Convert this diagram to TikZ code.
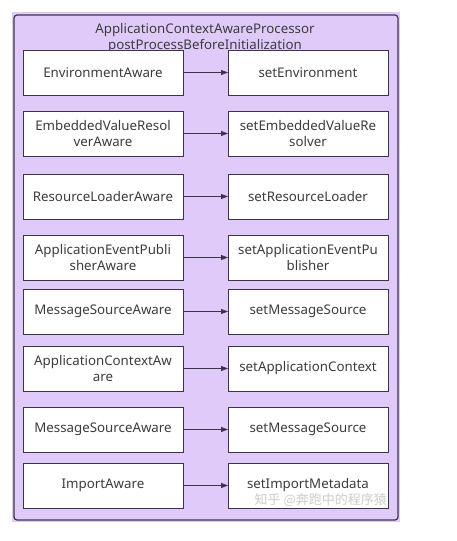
\documentclass[tikz,border=0pt]{standalone}
\usepackage{fontspec}
\setmainfont{Noto Sans}
\newfontfamily\cjk{Noto Sans CJK SC}
\usetikzlibrary{arrows.meta,positioning}
\definecolor{panelcol}{RGB}{224,202,250}
\definecolor{framecol}{RGB}{62,52,74}
\definecolor{txtcol}{RGB}{60,60,60}

\begin{document}
\begin{tikzpicture}[
  x=1pt, y=-1pt, >={Triangle[length=7pt,width=5pt]},
  n/.style={draw=framecol, fill=white, line width=0.9pt, align=center,
    minimum width=160pt, minimum height=45pt, inner sep=2pt, outer sep=0pt,
    font=\fontsize{13.3}{15.5}\selectfont, text=txtcol},
  e/.style={->, line width=0.8pt, draw=framecol, fill=framecol},
]
\useasboundingbox (0,0) rectangle (457,541);
\fill[panelcol] (12,12) rectangle (400,522);
\draw[framecol, line width=1.2pt, rounded corners=3pt] (14,15) rectangle (398,520);
\node[font=\fontsize{13.3}{15.5}\selectfont, text=txtcol, align=center] (title) at (205,38)
  {ApplicationContextAwareProcessor\\postProcessBeforeInitialization};
% left column
\node[n, anchor=north west] (a1) at (23,50) {EnvironmentAware};
\node[n, below=16pt of a1] (a2) {EmbeddedValueResol\\verAware};
\node[n, below=18pt of a2] (a3) {ResourceLoaderAware};
\node[n, below=16pt of a3] (a4) {ApplicationEventPubli\\sherAware};
\node[n, below=9pt of a4] (a5) {MessageSourceAware};
\node[n, below=12pt of a5] (a6) {ApplicationContextAw\\are};
\node[n, below=16pt of a6] (a7) {MessageSourceAware};
\node[n, below=11pt of a7] (a8) {ImportAware};
% right column
\node[n, right=45pt of a1] (b1) {setEnvironment};
\node[n, right=45pt of a2] (b2) {setEmbeddedValueRe\\solver};
\node[n, right=45pt of a3] (b3) {setResourceLoader};
\node[n, right=45pt of a4] (b4) {setApplicationEventPu\\blisher};
\node[n, right=45pt of a5] (b5) {setMessageSource};
\node[n, right=45pt of a6] (b6) {setApplicationContext};
\node[n, right=45pt of a7] (b7) {setMessageSource};
\node[n, right=45pt of a8] (b8) {setImportMetadata};
\foreach \i in {1,...,8}
  \draw[e] (a\i) -- (b\i);
\node[font=\cjk\fontsize{13}{15}\selectfont, text=gray!40, anchor=south east, inner sep=1pt] (mark) at (b8.south east) {知乎 @奔跑中的程序猿};
\end{tikzpicture}
\end{document}
